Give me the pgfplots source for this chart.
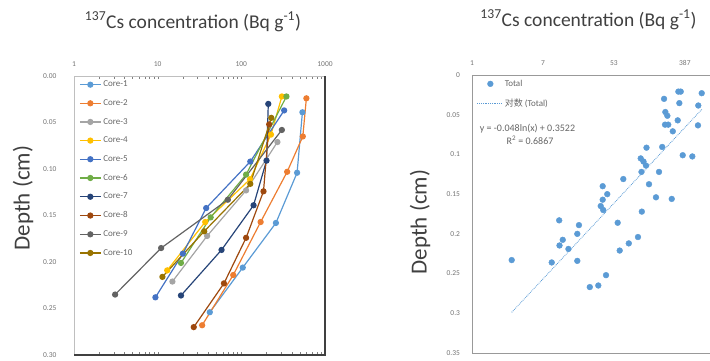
\documentclass[border=0pt]{standalone}
\usepackage{pgfplots}
\pgfplotsset{compat=1.18}
\usepackage{fontspec}
\setmainfont{Carlito}
\newfontfamily\cjk{Noto Sans CJK SC}
\definecolor{c1}{HTML}{5B9BD5}
\definecolor{c2}{HTML}{ED7D31}
\definecolor{c3}{HTML}{A5A5A5}
\definecolor{c4}{HTML}{FFC000}
\definecolor{c5}{HTML}{4472C4}
\definecolor{c6}{HTML}{70AD47}
\definecolor{c7}{HTML}{264478}
\definecolor{c8}{HTML}{9E480E}
\definecolor{c9}{HTML}{636363}
\definecolor{c10}{HTML}{997300}
\definecolor{txt}{HTML}{404040}
\begin{document}
\begin{tikzpicture}[x=1pt,y=1pt]
\useasboundingbox (0,0) rectangle (710,360);
\pgfplotsset{
  core/.style={color=#1, line width=1.2pt, mark=*, mark size=2.5pt, mark options={fill=#1, draw=#1, solid}},
}
% left panel
\begin{axis}[
  at={(74pt,5pt)}, anchor=south west, scale only axis,
  width=251pt, height=279pt,
  xmode=log, xmin=1, xmax=1000,
  ymin=0, ymax=0.30, y dir=reverse,
  xtick={1,10,100,1000}, xticklabels={1,10,100,1000},
  xticklabel pos=upper,
  ytick={0,0.05,0.1,0.15,0.2,0.25,0.3},
  yticklabels={0.00,0.05,0.10,0.15,0.20,0.25,0.30},
  major tick length=0pt, minor tick num=0,
  tick label style={font=\fontsize{7.5}{8}\selectfont, text=black!55},
  yticklabel style={xshift=-14pt},
  xticklabel style={yshift=6pt},
  axis line style={black!25},
  legend style={at={(0.02,0.99)}, anchor=north west, draw=none, fill=none,
    font=\fontsize{9}{9.5}\selectfont, text=black!60, row sep=7.3pt, inner sep=0pt,
    /tikz/every even column/.append style={column sep=3pt}},
  legend cell align=left,
  legend image code/.code={\draw[mark repeat=2,mark phase=2] plot coordinates {(0pt,0pt) (10.5pt,0pt) (21pt,0pt)};},
]
\addplot[core=c1] coordinates {(537,0.039) (464,0.104) (259,0.158) (104,0.206) (42,0.254)};
\addlegendentry{Core-1}
\addplot[core=c2] coordinates {(599,0.024) (543,0.065) (353,0.103) (170,0.157) (80,0.214) (34,0.268)};
\addlegendentry{Core-2}
\addplot[core=c3] coordinates {(270,0.071) (114,0.123) (39,0.172) (15,0.221)};
\addlegendentry{Core-3}
\addplot[core=c4] coordinates {(305,0.022) (226,0.063) (127,0.111) (37,0.157) (13,0.209)};
\addlegendentry{Core-4}
\addplot[core=c5] coordinates {(325,0.037) (128,0.092) (38,0.142) (20,0.191) (9.4,0.238)};
\addlegendentry{Core-5}
\addplot[core=c6] coordinates {(346,0.022) (114,0.106) (43,0.152) (19,0.201)};
\addlegendentry{Core-6}
\addplot[core=c7] coordinates {(210,0.030) (200,0.091) (140,0.139) (58,0.187) (19,0.236)};
\addlegendentry{Core-7}
\addplot[core=c8] coordinates {(215,0.052) (184,0.124) (114,0.174) (62,0.223) (27,0.270)};
\addlegendentry{Core-8}
\addplot[core=c9] coordinates {(305,0.058) (69,0.133) (11,0.185) (3.1,0.235)};
\addlegendentry{Core-9}
\addplot[core=c10] coordinates {(228,0.045) (128,0.116) (36,0.167) (11.4,0.216)};
\addlegendentry{Core-10}
\end{axis}
\draw[black!75, line width=1.4pt] (325,284) -- (325,5) -- (74,5);
% right panel
\begin{axis}[
  at={(472pt,7pt)}, anchor=south west, scale only axis,
  width=238pt, height=278pt,
  xmode=log, xmin=1, xmax=786,
  ymin=0, ymax=0.35, y dir=reverse,
  xtick={1,7.3,53.3,389}, xticklabels={1,7,53,387},
  xticklabel pos=upper,
  ytick={0,0.05,0.1,0.15,0.2,0.25,0.3,0.35},
  yticklabels={0,0.05,0.1,0.15,0.2,0.25,0.3,0.35},
  major tick length=0pt, minor tick num=0,
  tick label style={font=\fontsize{7.5}{8}\selectfont, text=black!55},
  yticklabel style={xshift=-8.5pt},
  xticklabel style={yshift=5.5pt},
  axis line style={black!40},
  legend style={at={(0.02,0.99)}, anchor=north west, draw=none, fill=none,
    font=\fontsize{9}{10}\selectfont, text=black!60, row sep=7pt, inner sep=0pt,
    /tikz/every even column/.append style={column sep=3pt}},
  legend cell align=left,
]
\addplot[only marks, mark=*, mark size=2.9pt, color=c1, mark options={fill=c1, draw=c1},
  legend image code/.code={\draw plot coordinates {(13pt,0pt)};}] coordinates {
(3.04,0.233) (9.33,0.236) (11.5,0.183) (12.7,0.2075) (11.6,0.2146) (14.9,0.219)
(19.1,0.234) (20.0,0.189) (19.1,0.200) (27.1,0.267) (34.4,0.265) (42.7,0.252)
(38.9,0.140) (44.2,0.150) (38.9,0.157) (36.8,0.165) (39.5,0.170) (59.2,0.186)
(62.6,0.221) (80.8,0.212) (104.5,0.204) (116.4,0.172) (69.3,0.131) (115.3,0.122)
(112.8,0.105) (122,0.109) (130.8,0.114) (132.7,0.0915) (142.3,0.1375) (173,0.154)
(188.4,0.122) (206,0.0906) (269,0.156) (366,0.101) (479,0.1025) (561,0.0634)
(277,0.0709) (223,0.0625) (244,0.0625) (318,0.0571) (225,0.0466) (238,0.0513)
(333,0.0354) (566,0.0384) (217,0.030) (324,0.0209) (346,0.0209) (623,0.0229)
};
\addlegendentry{Total}
\addplot[c1, densely dotted, line width=0.8pt,
  legend image code/.code={\draw (0pt,0pt) -- (25pt,0pt);}] coordinates {(3.04,0.2988) (623,0.0434)};
\addlegendentry{{\cjk 对数} (Total)}
\end{axis}
% titles and labels
\node[font=\fontsize{19.5}{20}\selectfont, text=txt] at (193,338) {\textsuperscript{137}Cs concentration (Bq g\textsuperscript{-1})};
\node[font=\fontsize{19.5}{20}\selectfont, text=txt] at (588.5,340) {\textsuperscript{137}Cs concentration (Bq g\textsuperscript{-1})};
\node[rotate=90, font=\fontsize{23}{23}\selectfont, text=txt] at (23,162) {Depth (cm)};
\node[rotate=90, font=\fontsize{23}{23}\selectfont, text=txt] at (420,138) {Depth (cm)};
\node[font=\fontsize{10}{11}\selectfont, text=black!60] at (527.5,231.5) {y = -0.048ln(x) + 0.3522};
\node[font=\fontsize{10}{11}\selectfont, text=black!60] at (530,220) {R\textsuperscript{2} = 0.6867};
\end{tikzpicture}
\end{document}
